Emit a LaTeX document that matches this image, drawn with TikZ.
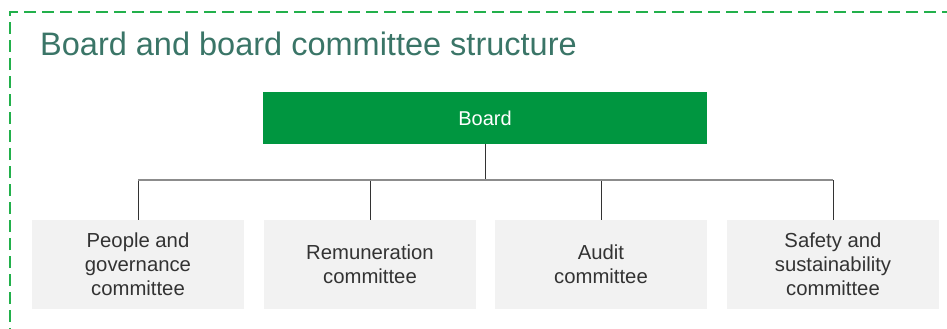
\documentclass[tikz,border=0pt]{standalone}
\usepackage{fontspec}
\setmainfont{Liberation Sans}
\definecolor{framegreen}{HTML}{22B04B}
\definecolor{titleteal}{HTML}{3A7567}
\definecolor{boardgreen}{HTML}{009640}
\definecolor{boxgray}{HTML}{F2F2F2}
\definecolor{textgray}{HTML}{333333}
\definecolor{busgray}{HTML}{8C8C8C}
\begin{document}
\begin{tikzpicture}[x=1pt,y=-1pt,
  frame/.style={draw=framegreen,line width=1.1pt,dash pattern=on 12pt off 6pt},
  boardbox/.style={fill=boardgreen,minimum width=444pt,minimum height=52pt,inner sep=0pt,
    text=white,font=\fontsize{20}{24}\selectfont},
  combox/.style={fill=boxgray,minimum width=212pt,minimum height=89pt,inner sep=0pt,
    text=textgray,align=center,font=\fontsize{20.3}{24}\selectfont},
  link/.style={draw=black!80,line width=0.8pt},
  bus/.style={draw=busgray,line width=1.8pt}]
\useasboundingbox (0,0) rectangle (947,329);
\clip (0,0) rectangle (947,329);
\draw[frame] (10,340) -- (10,12) -- (960,12);
\node[anchor=base west,text=titleteal,font=\fontsize{32.5}{38}\selectfont,inner sep=0pt] (title) at (40,56) {Board and board committee structure};
\node[boardbox] (b) at (485,118) {Board};
\node[combox] (c1) at (138,264.5) {People and\\governance\\committee};
\node[combox] (c2) at (370,264.5) {Remuneration\\committee};
\node[combox] (c3) at (601,264.5) {Audit\\committee};
\node[combox] (c4) at (833,264.5) {Safety and\\sustainability\\committee};
\coordinate (busy) at (0,180);
\draw[link] (b.south) -- (b.south |- busy);
\foreach \c in {c1,c2,c3,c4}{\draw[link] (\c.north) -- (\c.north |- busy);}
\draw[bus] (c1.north |- busy) -- (c4.north |- busy);
\end{tikzpicture}
\end{document}
